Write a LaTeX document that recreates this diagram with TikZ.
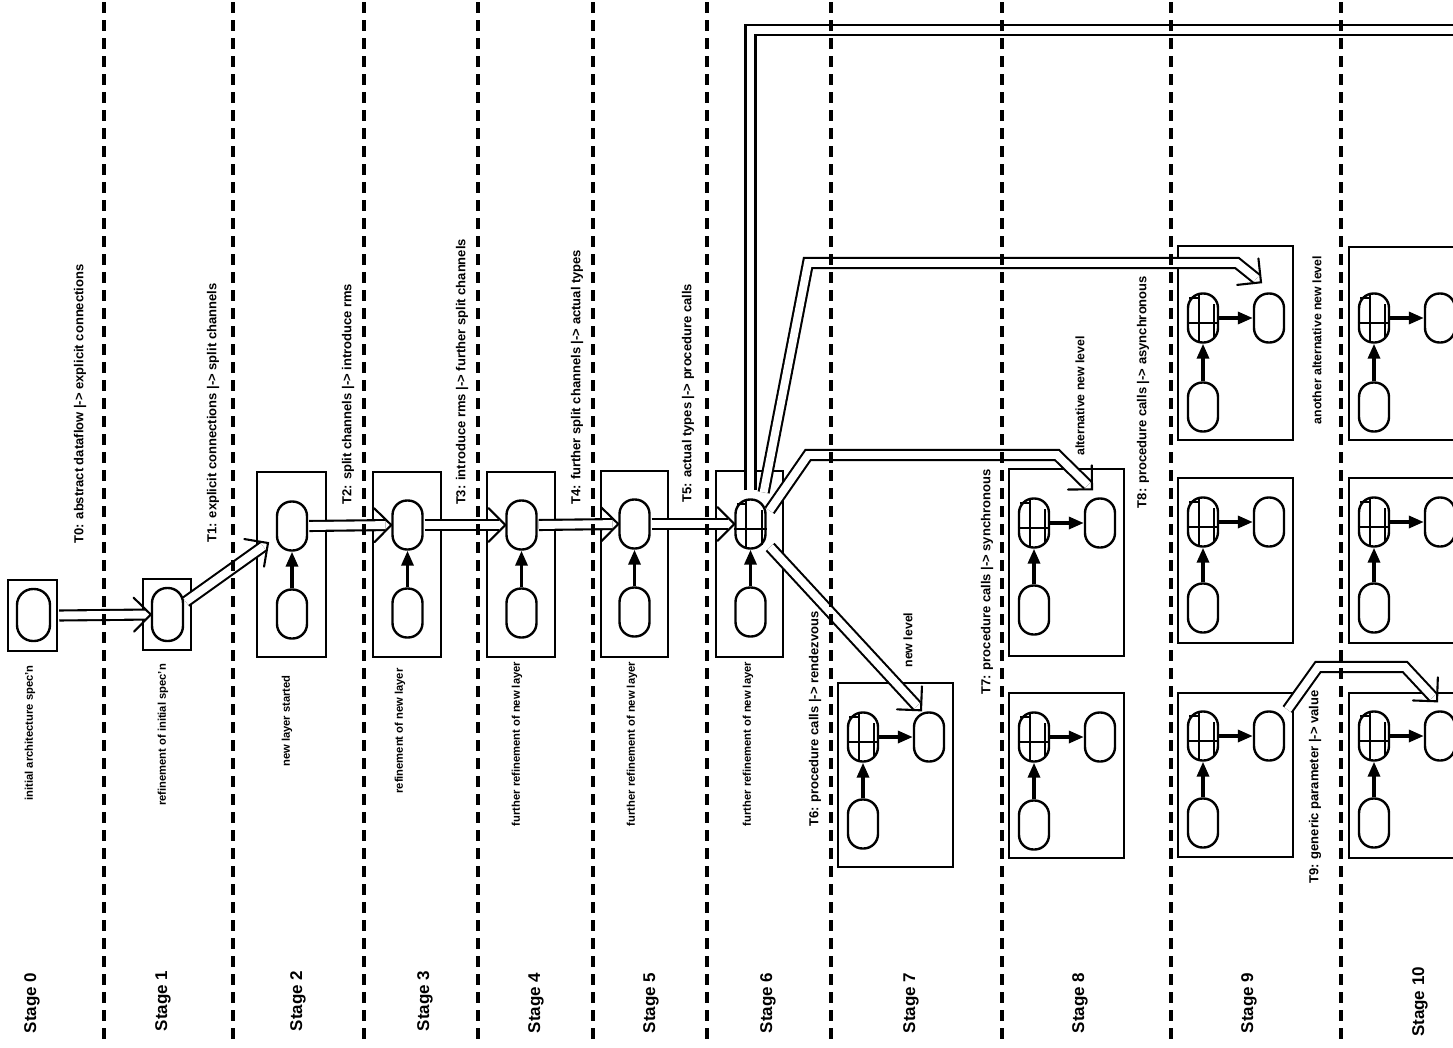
\documentclass[tikz,border=0pt]{standalone}
\usepackage{fontspec}
\setmainfont{Liberation Sans}
\usetikzlibrary{arrows.meta,calc}
\tikzset{
  boxst/.style={draw, line width=2.4pt, inner sep=0pt},
  ovalst/.style={draw, line width=2.4pt, fill=white, rounded corners=14.5pt, minimum width=30pt, minimum height=49pt, inner sep=0pt},
  dbl/.style={line width=2.1pt, double=white, double distance=7.9pt, line join=miter},
  headst/.style={line width=2.1pt, line cap=round, line join=miter},
  patline/.style={line width=2pt},
  solidarr/.style={line width=3.4pt, -{Triangle[length=15pt,width=12pt]}},
  sepline/.style={line width=3.2pt, dash pattern=on 11pt off 7pt},
  lab/.style={rotate=90, font=\bfseries\fontsize{11.2}{11.2}\selectfont, inner sep=0pt},
  tlab/.style={rotate=90, font=\bfseries\fontsize{13}{13}\selectfont, inner sep=0pt},
  nlab/.style={rotate=90, font=\bfseries\fontsize{12.3}{12.3}\selectfont, inner sep=0pt},
  stagelab/.style={rotate=90, font=\bfseries\fontsize{17}{17}\selectfont, inner sep=0pt},
}
\newcommand\dhead[2]{\draw[headst] ($(#1)!24pt!45:(#2)$) -- (#1) -- ($(#1)!24pt!-45:(#2)$);}
\newcommand\ovpat[1]{%
  \draw[patline] ($(#1.north west)+(12,0.5)$) -- ($(#1.south west)+(12,-0.5)$);
  \draw[patline] ($(#1.west)+(0,5)$) -- ($(#1.east)+(0,5)$);
  \draw[patline] ($(#1.north west)+(2.5,6)$) -- ($(#1.north west)+(12,6)$);
  \draw[patline] ($(#1.north east)+(-5,12)$) -- ($(#1.south east)+(-5,-5)$);
}
\newcommand\cfgbox[4]{%
  \node[boxst, minimum width=115pt, minimum height={(#4-#3)*1pt}] (#1b) at ({#2+57.5},{(#3+#4)/2}) {};
}
\newcommand\cfgovals[4]{%
  \node[ovalst] (#1u) at ({#2+25},#3) {};
  \ovpat{#1u}
  \node[ovalst] (#1r) at ({#2+91},#3) {};
  \node[ovalst] (#1d) at ({#2+25},#4) {};
  \draw[solidarr] (#1d.north) -- (#1u.south);
  \draw[solidarr] (#1u.east) -- (#1r.west);
}
\begin{document}
\begin{tikzpicture}[x=1pt,y=-1pt]
\useasboundingbox (0,0) rectangle (1453,1047);
\clip (0,0) rectangle (1453,1047);
\fill[white] (0,0) rectangle (1453,1047);

% ---------- boxes ----------
\node[boxst, minimum width=49pt, minimum height=71pt] (s0b) at (32.5,615.5) {};
\node[boxst, minimum width=48pt, minimum height=71pt] (s1b) at (167,614.5) {};
\node[boxst, minimum width=69pt, minimum height=185pt] (s2b) at (291.5,564.5) {};
\node[boxst, minimum width=68pt, minimum height=185pt] (s3b) at (407,564.5) {};
\node[boxst, minimum width=68pt, minimum height=185pt] (s4b) at (521,564.5) {};
\node[boxst, minimum width=67pt, minimum height=186pt] (s5b) at (634.5,564) {};
\node[boxst, minimum width=67pt, minimum height=186pt] (s6b) at (749.5,564) {};
\cfgbox{s7}{838}{683}{867}
\cfgbox{s8a}{1009}{469}{656}
\cfgbox{s8b}{1009}{693}{858}
\cfgbox{s9a}{1178}{246}{440}
\cfgbox{s9b}{1178}{478}{643}
\cfgbox{s9c}{1178}{693}{857}
\cfgbox{s10a}{1349}{247}{440}
\cfgbox{s10b}{1349}{478}{643}
\cfgbox{s10c}{1349}{693}{858}

% ---------- ovals ----------
\node[ovalst, minimum width=33pt, minimum height=52pt, rounded corners=16pt] (s0o) at (33.5,615) {};
\node[ovalst, minimum width=31pt, minimum height=53pt, rounded corners=15pt] (s1o) at (167.5,614.5) {};
\node[ovalst] (s2o) at (292,526) {};
\node[ovalst] (s2l) at (292,614) {};
\node[ovalst] (s3o) at (407.5,525) {};
\node[ovalst] (s3l) at (407.5,613) {};
\node[ovalst] (s4o) at (521.5,525) {};
\node[ovalst] (s4l) at (521.5,613) {};
\node[ovalst] (s5o) at (634.5,524) {};
\node[ovalst] (s5l) at (634.5,612) {};
\node[ovalst] (s6o) at (750.5,524) {};
\ovpat{s6o}
\node[ovalst] (s6l) at (750.5,612) {};
\foreach \k in {2,3,4,5,6} {\draw[solidarr] (s\k l.north) -- (s\k o.south);}
\cfgovals{s7}{838}{737}{824}
\cfgovals{s8a}{1009}{523}{610}
\cfgovals{s8b}{1009}{737}{825}
\cfgovals{s9a}{1178}{318}{407}
\cfgovals{s9b}{1178}{522}{608}
\cfgovals{s9c}{1178}{736}{823}
\cfgovals{s10a}{1349}{318}{407}
\cfgovals{s10b}{1349}{522}{608}
\cfgovals{s10c}{1349}{736}{823}

% ---------- double connectors ----------
\draw[dbl, shorten <=1pt, shorten >=6pt] (s0b.east) -- (s1o.west);
\dhead{s1o.west}{s0b.east}

\coordinate (s2in) at (268,543);
\draw[dbl, shorten <=2pt, shorten >=6pt] (s1o.35) -- (s2in);
\dhead{s2in}{s1o.35}

\draw[dbl, shorten <=1pt, shorten >=6pt] (s2o.east) -- (s3o.west);
\dhead{s3o.west}{s2o.east}
\draw[dbl, shorten <=1pt, shorten >=6pt] (s3o.east) -- (s4o.west);
\dhead{s4o.west}{s3o.east}
\draw[dbl, shorten <=1pt, shorten >=6pt] (s4o.east) -- (s5o.west);
\dhead{s5o.west}{s4o.east}
\draw[dbl, shorten <=1pt, shorten >=6pt] (s5o.east) -- (s6o.west);
\dhead{s6o.west}{s5o.east}

% to the far right (another alternative new level)
\coordinate (offR) at (1475,30);
\draw[dbl, shorten <=8pt] (s6o.north) -- (s6o.north |- offR) -- (offR);

% to stage 9 top
\coordinate (k9a) at (808,263);
\coordinate (k9b) at (1237,263);
\coordinate (tip9) at ($(s9ar.north)+(-8,-10)$);
\draw[dbl, shorten <=6pt, shorten >=6pt] (s6o.65) -- (k9a) -- (k9b) -- (tip9);
\dhead{tip9}{k9b}

% to stage 8 top
\coordinate (k8a) at (808,455);
\coordinate (k8b) at (1057,455);
\coordinate (tip8) at ($(s8ar.north)+(-8,-8)$);
\draw[dbl, shorten <=5pt, shorten >=6pt] (s6o.30) -- (k8a) -- (k8b) -- (tip8);
\dhead{tip8}{k8b}

% to stage 7
\coordinate (tip7) at ($(s7r.north)+(-8,-1)$);
\draw[dbl, shorten <=5pt, shorten >=6pt] (s6o.-50) -- (tip7);
\dhead{tip7}{s6o.-50}

% stage 9 bottom to stage 10 bottom
\coordinate (k10a) at (1318,667);
\coordinate (k10b) at (1405,667);
\coordinate (tip10) at ($(s10cr.north)+(-3,-9)$);
\draw[dbl, shorten <=4pt, shorten >=6pt] (s9cr.55) -- (k10a) -- (k10b) -- (tip10);
\dhead{tip10}{k10b}

% ---------- stage separators ----------
\foreach \xx in {104,233,364,478,593,707,831,1002,1171,1341}
  {\draw[sepline] (\xx,2) -- (\xx,1042);}

% ---------- labels ----------
\node[stagelab] (st0) at (32,1003) {Stage 0};
\node[stagelab] (st1) at (163,1001) {Stage 1};
\node[stagelab] (st2) at (298,1001) {Stage 2};
\node[stagelab] (st3) at (425,1001) {Stage 3};
\node[stagelab] (st4) at (536,1003) {Stage 4};
\node[stagelab] (st5) at (651,1003) {Stage 5};
\node[stagelab] (st6) at (768,1003) {Stage 6};
\node[stagelab] (st7) at (911,1003) {Stage 7};
\node[stagelab] (st8) at (1080,1003) {Stage 8};
\node[stagelab] (st9) at (1249,1003) {Stage 9};
\node[stagelab] (st10) at (1420,1002) {Stage 10};

\node[lab] (d0) at (30,733) {initial architecture spec'n};
\node[lab] (d1) at (163,735) {refinement of initial spec'n};
\node[lab] (d2) at (287,721) {new layer started};
\node[lab] (d3) at (400,731) {refinement of new layer};
\node[lab] (d4) at (517,744) {further refinement of new layer};
\node[lab] (d5) at (632,744) {further refinement of new layer};
\node[lab] (d6) at (748,744) {further refinement of new layer};

\node[tlab] (lb0) at (80,404) {T0: abstract dataflow |-> explicit connections};
\node[tlab] (lb1) at (213,413) {T1: explicit connections |-> split channels};
\node[tlab] (lb2) at (348,394) {T2: split channels |-> introduce rms};
\node[tlab] (lb3) at (462,372) {T3: introduce rms |-> further split channels};
\node[tlab] (lb4) at (577,377) {T4: further split channels |-> actual types};
\node[tlab] (lb5) at (688,393) {T5: actual types |-> procedure calls};
\node[tlab] (lb6) at (815,719) {T6: procedure calls |-> rendezvous};
\node[nlab] (nl7) at (908,640) {new level};
\node[tlab] (lb7) at (987,582) {T7: procedure calls |-> synchronous};
\node[nlab] (nl8) at (1080,396) {alternative new level};
\node[tlab] (lb8) at (1143,392) {T8: procedure calls |-> asynchronous};
\node[nlab] (nl10) at (1317,340) {another alternative new level};
\node[tlab] (lb9) at (1315,787) {T9: generic parameter |-> value};
\end{tikzpicture}
\end{document}
